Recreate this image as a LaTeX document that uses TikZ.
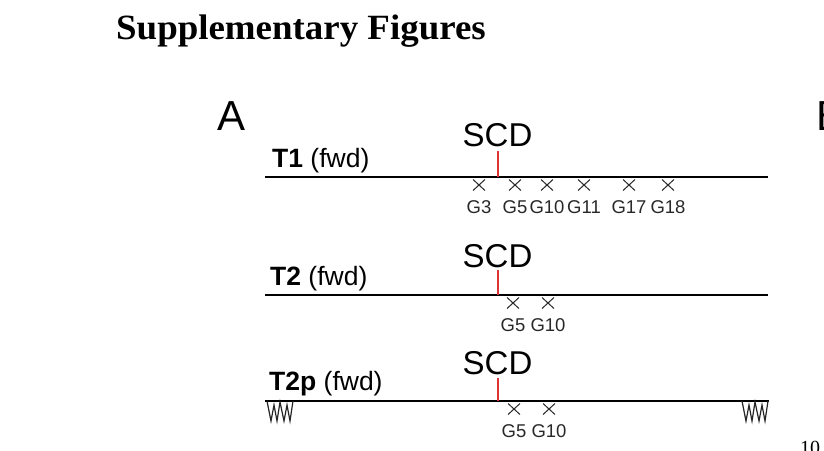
\documentclass[tikz,border=0pt]{standalone}
\usepackage{fontspec}
\usepackage{graphicx}
\setmainfont{Liberation Sans}
\newfontfamily\titlefont{Liberation Serif}
\usetikzlibrary{shapes.misc}
\definecolor{scdred}{RGB}{222,52,52}
\definecolor{xgray}{RGB}{40,40,40}
\begin{document}
\begin{tikzpicture}[x=1pt,y=-1pt,
  track/.style={line width=2pt,black},
  cut/.style={line width=2pt,scdred},
  lbl/.style={inner sep=0,anchor=base west,font=\fontsize{26.5}{28}\selectfont},
  scd/.style={inner sep=0,anchor=base,font=\fontsize{33}{36}\selectfont},
  gene/.style={inner sep=0,anchor=base,font=\fontsize{18.5}{20}\selectfont,text=xgray},
  xm/.style={cross out,draw=xgray,line width=1pt,minimum width=11pt,minimum height=10pt,inner sep=0},
  ww/.style={line width=1.2pt,black!85,line join=miter},
  panel/.style={inner sep=0,anchor=base west,font=\fontsize{42}{46}\selectfont}]
\useasboundingbox (0,0) rectangle (824,450);
\clip (0,0) rectangle (824,450);

% title
\node[inner sep=0,anchor=base west] (title) at (116,39)
  {\scalebox{1.04}[1]{\titlefont\bfseries\fontsize{35.5}{40}\selectfont Supplementary Figures}};

% panel letters
\node[panel] (A) at (217,130) {A};
\node[panel] (B) at (816.5,130) {B};
\node[inner sep=0,anchor=base west,font=\titlefont\fontsize{20}{22}\selectfont] (pg) at (800,454) {10};

% ---------- T1 ----------
\coordinate (t1s) at (265,177);
\coordinate (t1e) at (768,177);
\coordinate (t1c) at (497.5,177);
\coordinate (t1ct) at (497.5,151);
\draw[track] (t1s) -- (t1e);
\draw[cut] (t1c) -- (t1ct);
\node[lbl] (t1l) at (272,167) {\textbf{T1} (fwd)};
\node[scd] (t1scd) at (497.5,146) {SCD};
\foreach \x/\g [count=\i] in {479/G3,515/G5,547/G10,584/G11,629/G17,668/G18}{
  \node[xm] (t1x\i) at (\x,185) {};
  \node[gene] (t1g\i) at (\x,213) {\g};
}

% ---------- T2 ----------
\coordinate (t2s) at (265,295);
\coordinate (t2e) at (768,295);
\coordinate (t2c) at (497.5,295);
\coordinate (t2ct) at (497.5,270);
\draw[track] (t2s) -- (t2e);
\draw[cut] (t2c) -- (t2ct);
\node[lbl] (t2l) at (270,285) {\textbf{T2} (fwd)};
\node[scd] (t2scd) at (497.5,267) {SCD};
\foreach \x/\g [count=\i] in {513/G5,548/G10}{
  \node[xm] (t2x\i) at (\x,303) {};
  \node[gene] (t2g\i) at (\x,331) {\g};
}

% ---------- T2p ----------
\coordinate (t3s) at (265,401);
\coordinate (t3e) at (769,401);
\coordinate (t3c) at (497.5,401);
\coordinate (t3ct) at (497.5,378);
\draw[track] (t3s) -- (t3e);
\draw[cut] (t3c) -- (t3ct);
\node[lbl] (t3l) at (269,390) {\textbf{T2p} (fwd)};
\node[scd] (t3scd) at (497.5,374) {SCD};
\foreach \x/\g [count=\i] in {514/G5,549/G10}{
  \node[xm] (t3x\i) at (\x,409) {};
  \node[gene] (t3g\i) at (\x,437) {\g};
}
% terminator zigzags
\draw[ww] (267,401) -- (271,421) -- (274,405) -- (277,421) -- (280,402)
  -- (284,421) -- (287,405) -- (290,421) -- (293,401);
\draw[ww] (742,401) -- (746,421) -- (749,405) -- (752,421) -- (755,402)
  -- (759,421) -- (762,405) -- (765,421) -- (768,401);
\end{tikzpicture}
\end{document}
